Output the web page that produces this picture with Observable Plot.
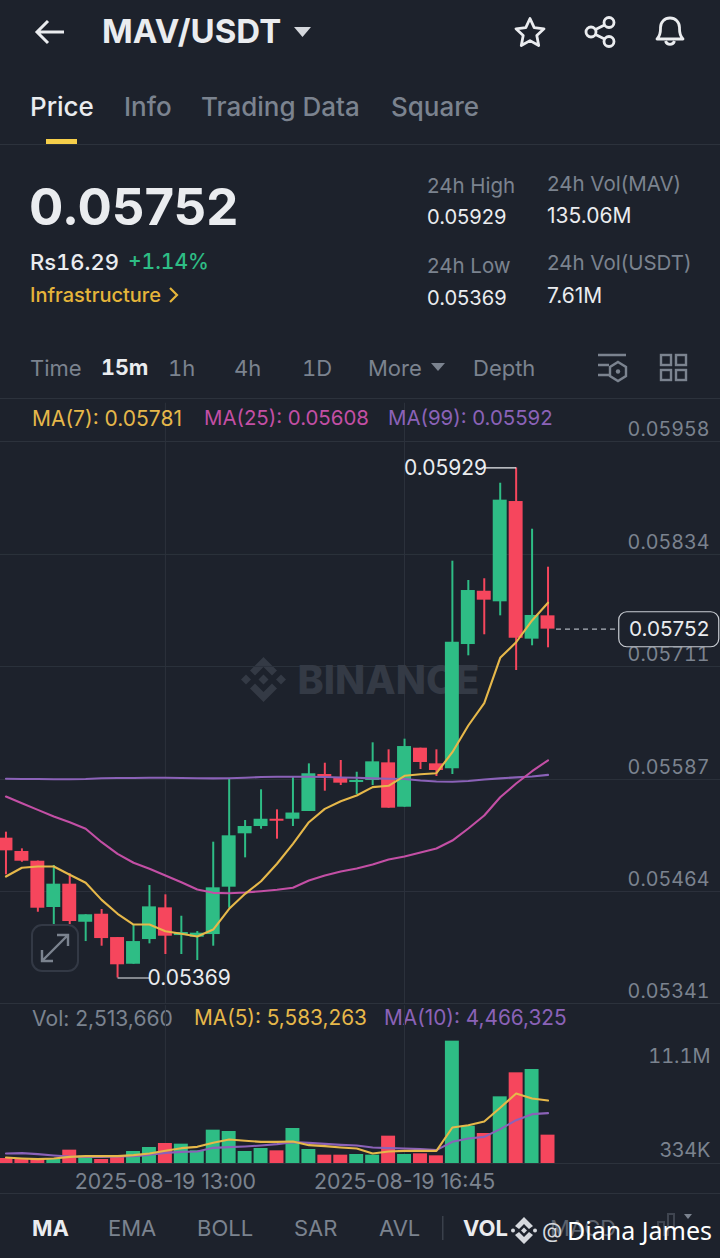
<!DOCTYPE html>
<html><head><meta charset="utf-8">
<script src="https://cdn.jsdelivr.net/npm/d3@7"></script>
<script src="https://cdn.jsdelivr.net/npm/@observablehq/plot@0.6"></script>
<style>
html,body{margin:0;padding:0;background:#1d222c;width:720px;height:1258px;overflow:hidden;font-family:Inter,"Noto Sans",sans-serif;}
#page{position:relative;width:720px;height:1258px;overflow:hidden}
.t{position:absolute;white-space:nowrap;line-height:1}
.tn{font-variant-numeric:tabular-nums}
svg{display:block}
.hr{position:absolute;left:0;width:720px;height:1px;background:#2c323c}
</style></head><body><div id="page"></div>
<script>
// ---------- data ----------
const times = d3.range(35).map(i => new Date(Date.UTC(2025,7,19,10,30 + 15*i)));
const high  = [.055291,.055108,.054974,.054925,.054834,.054384,.054442,.054134,.054266,.054705,.054603,.054368,.054200,.055181,.055872,.055419,.055756,.055536,.055891,.056041,.056048,.056078,.055949,.056272,.056195,.056312,.056213,.056195,.058266,.058054,.058073,.059122,.059290,.058617,.058200];
const bodyTop = [.055225,.055079,.054972,.054720,.054720,.054384,.054390,.054134,.054090,.054471,.054460,.054189,.054182,.054680,.055251,.055353,.055433,.055433,.055501,.055932,.055924,.055888,.055858,.056063,.056052,.056231,.056213,.056041,.057376,.057944,.057936,.058936,.058921,.057670,.057666];
const bodyBottom = [.055086,.054972,.054456,.054464,.054310,.054302,.054123,.053835,.053841,.054112,.054149,.054156,.054138,.054167,.054687,.055273,.055353,.055411,.055433,.055518,.055894,.055829,.055836,.055858,.055554,.055565,.056056,.055968,.055987,.057351,.057838,.057820,.057420,.057410,.057520];
const low   = [.054823,.054961,.054412,.054277,.054277,.054090,.054039,.053690,.053841,.054065,.053948,.053948,.053882,.054039,.054456,.055009,.055323,.055214,.055353,.055518,.055741,.055803,.055704,.055803,.055554,.055565,.055979,.055902,.055924,.057227,.057458,.057666,.057066,.057337,.057315];
const rising = [0,0,0,1,0,1,0,0,1,1,0,1,1,1,1,1,1,0,1,1,0,0,1,1,0,1,0,0,1,1,0,1,0,1,0];
const ma7  = [.054804,.054900,.054914,.054914,.054823,.054735,.054548,.054395,.054277,.054277,.054204,.054175,.054145,.054222,.054450,.054614,.054752,.054944,.055163,.055400,.055547,.055631,.055693,.055785,.055800,.055910,.055927,.055938,.056169,.056462,.056707,.057205,.057376,.057615,.057810];
const ma25 = [.055682,.055609,.055536,.055463,.055400,.055328,.055181,.055053,.054955,.054889,.054815,.054742,.054661,.054625,.054621,.054628,.054643,.054658,.054680,.054760,.054815,.054859,.054892,.054936,.054991,.055024,.055068,.055111,.055199,.055331,.055474,.055675,.055825,.055960,.056080];
const ma99 = [.055877,.055875,.055875,.055872,.055872,.055875,.055883,.055886,.055886,.055888,.055888,.055886,.055883,.055882,.055883,.055888,.055896,.055899,.055900,.055899,.055896,.055891,.055888,.055882,.055878,.055875,.055858,.055847,.055845,.055853,.055869,.055882,.055893,.055902,.055920];
const volume = [443,355,443,443,1183,650,355,650,1064,1419,1774,1715,1124,2957,2838,1064,1330,1124,3105,1242,739,739,798,739,2424,798,857,680,10851,3311,2661,5913,8042,8338,2513.66];
const volMa5 = [532,443,384,443,591,650,650,650,739,887,1124,1360,1478,1833,2129,2011,1922,1922,1951,1626,1537,1419,1331,887,1064,1124,1124,1124,3193,3400,3725,4938,6209,5766,5583.263];
const volMa10 = [887,917,828,710,621,591,591,621,650,769,946,1035,1064,1390,1449,1508,1597,1715,1892,1833,1744,1656,1597,1419,1360,1331,1271,1183,1922,2218,2365,3045,3844,4376,4466.325];
const priceTicks = [0.05958,0.05834,0.05711,0.05587,0.05464,0.05341];
const priceTickLabels = ["0.05958","0.05834","0.05711","0.05587","0.05464","0.05341"];
const dateLabels = ["2025-08-19 13:00","2025-08-19 16:45"];
const dateTicks = [times[10],times[25]];
const lastPrice = 0.05752, highPrice = 0.05929, lowPrice = 0.05369;
const tabs = ["Price","Info","Trading Data","Square"];

const GREEN="#2ebd85", RED="#f6465d", YEL="#e6b84a", GOLD="#e5b53a", PINK="#c34fa5", PUR="#8b62b8", GRID="#2c323c", AX="#7b838f", BG="#1d222c", WH="#eaecef";
const rows = times.map((t,i)=>({t,high:high[i],low:low[i],top:bodyTop[i],bot:bodyBottom[i],up:rising[i],ma7:ma7[i],ma25:ma25[i],ma99:ma99[i],vol:volume[i]*1000,v5:volMa5[i]*1000,v10:volMa10[i]*1000}));
const xScale = {type:"band",domain:times,range:[-3.5,556.5],padding:0.125,round:false,align:0.5,axis:null};
const lineOpts = {x:"t",curve:"linear",strokeWidth:2.1};
const col = d => d.up?GREEN:RED;
const FONT = {background:"transparent",fontFamily:"Inter,sans-serif",overflow:"visible"};

const page = document.getElementById("page");
function T(s,x,y,size,color,weight,tn){
  const e=document.createElement("div");e.className="t"+(tn?" tn":"");e.textContent=s;
  e.style.cssText+=`left:${x}px;top:${y}px;font-size:${size}px;color:${color};font-weight:${weight||400};`;
  page.appendChild(e);return e;
}
function HR(y){const e=document.createElement("div");e.className="hr";e.style.top=y+"px";page.appendChild(e);}
function ICON(html,x,y,w,h){const e=document.createElementNS("http://www.w3.org/2000/svg","svg");e.setAttribute("width",w);e.setAttribute("height",h);e.setAttribute("viewBox",`0 0 ${w} ${h}`);e.style.cssText=`position:absolute;left:${x}px;top:${y}px;overflow:visible`;e.innerHTML=html;page.appendChild(e);}

// ---------- header ----------
ICON(`<path d="M3 16H30M14 5L3 16L14 27" fill="none" stroke="${WH}" stroke-width="3"/>`,34,16,32,32);
T("MAV/USDT",102,15,33,WH,700);
ICON(`<path d="M0 0H17L8.5 10Z" fill="#d5d8dd"/>`,294,27,17,10);
ICON(`<path d="M16 2.5L20.2 11.6L30 12.8L22.8 19.5L24.7 29.5L16 24.6L7.3 29.5L9.2 19.5L2 12.8L11.8 11.6Z" fill="none" stroke="${WH}" stroke-width="2.8" stroke-linejoin="round"/>`,514,16,32,32);
ICON(`<circle cx="7" cy="16" r="5" fill="none" stroke="${WH}" stroke-width="2.8"/><circle cx="25" cy="6.5" r="5" fill="none" stroke="${WH}" stroke-width="2.8"/><circle cx="25" cy="25.5" r="5" fill="none" stroke="${WH}" stroke-width="2.8"/><path d="M11.5 13.5L20.5 9M11.5 18.5L20.5 23" stroke="${WH}" stroke-width="2.8"/>`,584,16,32,32);
ICON(`<path d="M3 24C7 20 6.5 16 6.5 12.5C6.5 7 10.5 3 16 3S25.5 7 25.5 12.5C25.5 16 25 20 29 24Z" fill="none" stroke="${WH}" stroke-width="2.8" stroke-linejoin="round"/><path d="M11.5 26C13 30.5 19 30.5 20.5 26" fill="none" stroke="${WH}" stroke-width="2.8"/>`,654,15,32,32);

// tabs
T(tabs[0],30,94,26,WH,500);
T(tabs[1],124,94,26,AX,500);
T(tabs[2],201,94,26,AX,500);
T(tabs[3],391,94,26,AX,500);
ICON(`<rect width="31" height="5" fill="#f5ce4a"/>`,46,139,31,5);
HR(144);

// price block
T("0.05752",29,181,51,WH,700);
T("Rs16.29",30,251,22,WH,500,true);
T("+1.14%",128,251,21,GREEN,500,true);
T("Infrastructure",30,285,20,GOLD,500);
ICON(`<path d="M1 1L8 8L1 15" fill="none" stroke="${GOLD}" stroke-width="2.2"/>`,169,287,10,16);
T("24h High",427,176,20.5,AX);
T("0.05929",427,207,20.1,WH);
T("24h Vol(MAV)",547,174,20.5,AX);
T("135.06M",547,205,21,WH);
T("24h Low",427,256,20.5,AX);
T("0.05369",427,288,20.1,WH);
T("24h Vol(USDT)",547,253,20.5,AX);
T("7.61M",547,285,21,WH);

// interval row
T("Time",30,357,22,AX);
T("15m",101,357,21.5,WH,700,true);
T("1h",168,357,22,AX,400,true);
T("4h",234,357,22,AX);
T("1D",302,357,22,AX,400,true);
T("More",368,357,22,AX);
ICON(`<path d="M0 0H14L7 8Z" fill="${AX}"/>`,431,363,14,8);
T("Depth",473,357,22,AX);
ICON(`<path d="M0 2H28M0 12H11M0 22H11" stroke="${AX}" stroke-width="2.4"/><path d="M20 9L28 14V23L20 28L12 23V14Z" fill="none" stroke="${AX}" stroke-width="2.4"/><circle cx="20" cy="18.5" r="2.2" fill="${AX}"/>`,598,353,28,28);
ICON(`<g fill="none" stroke="${AX}" stroke-width="2.4"><rect x="1" y="1" width="10" height="10"/><rect x="16" y="1" width="10" height="10"/><rect x="1" y="16" width="10" height="10"/><rect x="16" y="16" width="10" height="10"/></g>`,660,354,28,28);
HR(398);

// watermark logo sits beneath the chart
ICON(`<g fill="#343a45"><path d="M23.5 1L37 14.5L32 19.5L23.5 11L15 19.5L10 14.5Z"/><path d="M23.5 46L37 32.5L32 27.5L23.5 36L15 27.5L10 32.5Z"/><path d="M1 23.5L6 18.5L11 23.5L6 28.5Z"/><path d="M36 23.5L41 18.5L46 23.5L41 28.5Z"/><path d="M18.5 23.5L23.5 18.5L28.5 23.5L23.5 28.5Z"/></g>`,240,656,47,47);

// ---------- price chart ----------
const priceChart = Plot.plot({
  width:720,height:604,marginLeft:0,marginRight:0,marginTop:0,marginBottom:0,
  style:FONT,
  x:xScale,
  y:{domain:[0.05341,0.05958],range:[603,41],axis:null},
  marks:[
    Plot.ruleY(priceTicks,{stroke:GRID,strokeWidth:1}),
    Plot.ruleX(dateTicks,{y1:0.05341,y2:0.06000,stroke:GRID,strokeWidth:1}),
    Plot.text(["BINANCE"],{frameAnchor:"top-left",dx:297,dy:265,textAnchor:"start",lineAnchor:"top",fontSize:39.5,fontWeight:800,fill:"#343a45"}),
    Plot.ruleX(rows,{x:"t",y1:"low",y2:"high",stroke:col,strokeWidth:2}),
    Plot.barY(rows,{x:"t",y1:"bot",y2:"top",fill:col}),
    Plot.line(rows,{...lineOpts,y:"ma99",stroke:PUR}),
    Plot.line(rows,{...lineOpts,y:"ma25",stroke:PINK}),
    Plot.line(rows,{...lineOpts,y:"ma7",stroke:YEL}),
    Plot.ruleY([lastPrice],{insetLeft:556,insetRight:102,stroke:"#aeb4bc",strokeWidth:1.2,strokeDasharray:"5 4"}),
    Plot.text(priceTickLabels,{y:(d,i)=>priceTicks[i],frameAnchor:"right",dx:-11,textAnchor:"end",dy:-12,fontSize:19.7,fill:AX,fontVariant:"tabular-nums"}),
    Plot.link([highPrice],{x1:()=>times[30],x2:()=>times[32],y1:d=>d,y2:d=>d,stroke:WH,strokeWidth:1.2}),
    Plot.text([highPrice],{x:()=>times[32],y:d=>d,text:d=>d.toFixed(5),dx:-29,textAnchor:"end",fontSize:21,fill:WH}),
    Plot.link([lowPrice],{x1:()=>times[7],x2:()=>times[9],y1:d=>d,y2:d=>d,stroke:WH,strokeWidth:1.2}),
    Plot.text([lowPrice],{x:()=>times[7],y:d=>d,text:d=>d.toFixed(5),dx:30,textAnchor:"start",fontSize:21,fill:WH}),
  ]
});
const priceTop = 400;
priceChart.style.cssText+=`position:absolute;left:0;top:${priceTop}px;`;
page.appendChild(priceChart);

// ---------- legends over chart ----------
T("MA(7): 0.05781",32,408,21,YEL);
T("MA(25): 0.05608",204,408,20.4,PINK);
T("MA(99): 0.05592",388,408,20.4,PUR);

// ---------- volume chart ----------
T("Vol: 2,513,660",32,1008,21.1,AX);
T("MA(5): 5,583,263",194,1008,20.8,YEL);
T("MA(10): 4,466,325",384,1008,20.8,PUR);
const volChart = Plot.plot({
  width:720,height:190,marginLeft:0,marginRight:0,marginTop:0,marginBottom:0,
  style:{...FONT,position:"absolute",left:"0",top:"1004px"},
  x:xScale,
  y:{domain:[0,12000000],range:[159,23.7],axis:null},
  marks:[
    Plot.ruleX(dateTicks,{y1:0,y2:14000000,stroke:GRID}),
    Plot.ruleY([0],{stroke:GRID}),
    Plot.barY(rows,{x:"t",y1:0,y2:"vol",fill:col}),
    Plot.line(rows,{...lineOpts,y:"v10",stroke:PUR}),
    Plot.line(rows,{...lineOpts,y:"v5",stroke:YEL}),
    Plot.text(dateLabels,{x:(d,i)=>dateTicks[i],y:0,dy:19,fontSize:21.3,fill:AX}),
    Plot.text(["11.1M"],{y:11100000,frameAnchor:"right",dx:-10,dy:18,fontSize:20,fill:AX,fontVariant:"tabular-nums"}),
    Plot.text(["334K"],{y:334000,frameAnchor:"right",dx:-10,dy:-9,fontSize:20,fill:AX}),
  ]
});
page.appendChild(volChart);

// ---------- last-price tag, placed from the price scale ----------
const tagY = priceTop + priceChart.scale("y").apply(lastPrice);
ICON(`<rect x="0.75" y="0.75" width="100" height="35" rx="8" fill="${BG}" stroke="#c9cdd3" stroke-width="1.2"/>`,618,tagY-18,102,37);
T(lastPrice.toFixed(5),629,tagY-10,20.7,WH);

// expand button
ICON(`<rect x="1" y="1" width="46" height="46" rx="10" fill="none" stroke="#333945" stroke-width="2"/><path d="M12 36L36 12M26 11H37V22M11 26V37H22" fill="none" stroke="#7b838f" stroke-width="2.4"/>`,31,924,48,48);

// ---------- bottom bar ----------
HR(1193);
const by=1217;
T("MA",32,by,22,WH,700);
T("EMA",108,by,22,AX);
T("BOLL",197,by,22,AX);
T("SAR",294,by,22,AX);
T("AVL",379,by,22,AX);
ICON(`<rect width="1.5" height="24" fill="#3a404b"/>`,442,1216,2,24);
T("VOL",463,by,22,WH,700);
T("MACD",550,by,22,"#5c636e");
ICON(`<path d="M0 22V8H6V22M10 22V0H16V22" fill="none" stroke="#3f4550" stroke-width="2"/>`,658,1214,24,24);
ICON(`<path d="M0 0H8L4 5Z" fill="#7b838f"/>`,684,1214,8,5);
T("@",542,1220,21,"#d5d8dd");
ICON(`<g fill="#d5d8dd"><path d="M12 0L21 9L17 12L12 7L7 12L3 9Z"/><path d="M12 27L21 18L17 15L12 20L7 15L3 18Z"/><circle cx="1" cy="13.5" r="2"/><circle cx="23" cy="13.5" r="2"/><path d="M9 13.5L12 10.5L15 13.5L12 16.5Z"/></g>`,512,1217,24,28);
T("Diana James",567,1218,25,"#ffffff").style.fontFamily="'Noto Sans',sans-serif";
</script></body></html>
